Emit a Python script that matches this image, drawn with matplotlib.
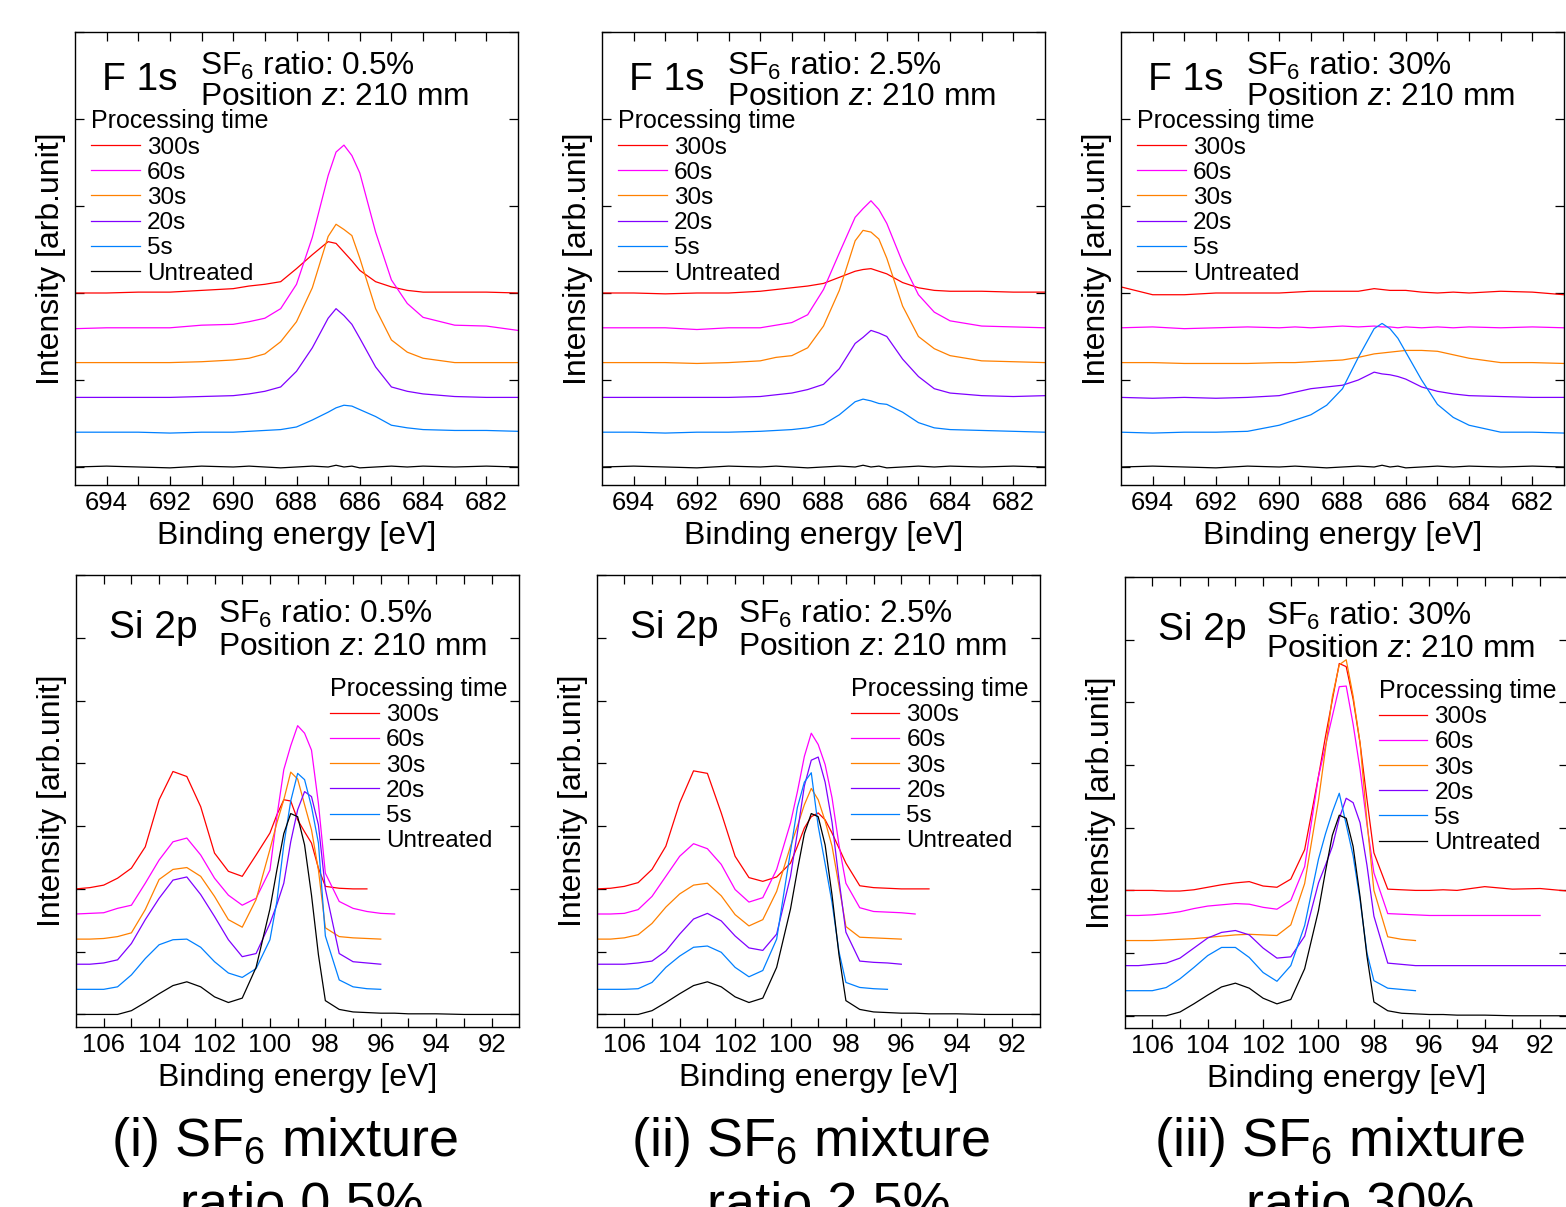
import numpy as np
import matplotlib
matplotlib.use("Agg")
import matplotlib.pyplot as plt

plt.rcParams['font.family'] = ['Liberation Sans', 'DejaVu Sans']
plt.rcParams['mathtext.fontset'] = 'custom'
plt.rcParams['mathtext.rm'] = 'Liberation Sans'
plt.rcParams['mathtext.it'] = 'Liberation Sans:italic'
plt.rcParams['mathtext.bf'] = 'Liberation Sans:bold'

nan = np.nan

times = ["300s", "60s", "30s", "20s", "5s", "Untreated"]
colors = ["#ff0000", "#ff00ff", "#ff8000", "#8000ff", "#0080ff", "#000000"]
offsets = [2.0, 1.6, 1.2, 0.8, 0.4, 0.0]
ratios = ["0.5%", "2.5%", "30%"]
roman = ["(i)", "(ii)", "(iii)"]

# ---- F 1s spectra (300s, 60s, 30s, 20s, 5s), untreated shared ----
f1s_energy = [695, 694, 693, 692, 691, 690, 689.5, 689, 688.5, 688, 687.5, 687,
              686.75, 686.5, 686.25, 686, 685.5, 685, 684.5, 684, 683, 682, 681]

f1s_untreated = [0.0, 0.01, 0.0, -0.01, 0.01, 0.0, 0.01, 0.0, -0.01, 0.0, 0.01, 0.0,
                 0.02, 0.0, 0.01, -0.01, 0.0, 0.01, 0.0, 0.01, 0.0, 0.01, 0.0]

f1s_ratio05 = [
    [0.0, 0.0, 0.01, 0.01, 0.03, 0.05, 0.08, 0.10, 0.13, 0.28, 0.44, 0.59,
     0.57, 0.47, 0.37, 0.26, 0.13, 0.07, 0.03, 0.01, 0.01, 0.01, 0.0],
    [-0.01, 0.0, 0.0, 0.0, 0.03, 0.04, 0.07, 0.11, 0.22, 0.50, 1.04, 1.75,
     2.02, 2.10, 1.98, 1.78, 1.10, 0.55, 0.28, 0.12, 0.03, 0.02, -0.03],
    [0.0, 0.0, 0.0, 0.0, 0.01, 0.03, 0.05, 0.10, 0.24, 0.47, 0.86, 1.45,
     1.59, 1.53, 1.46, 1.20, 0.62, 0.26, 0.12, 0.05, 0.0, 0.0, 0.0],
    [0.0, 0.0, 0.0, 0.0, 0.01, 0.02, 0.04, 0.07, 0.12, 0.30, 0.57, 0.91,
     1.02, 0.94, 0.84, 0.68, 0.35, 0.12, 0.07, 0.04, 0.01, 0.0, 0.0],
    [0.0, 0.0, 0.0, -0.01, 0.0, 0.0, 0.01, 0.02, 0.03, 0.06, 0.14, 0.23,
     0.28, 0.31, 0.30, 0.26, 0.18, 0.08, 0.05, 0.03, 0.02, 0.02, 0.01],
]

f1s_ratio25 = [
    [0.0, 0.0, -0.01, 0.0, 0.0, 0.02, 0.04, 0.06, 0.08, 0.11, 0.18, 0.25,
     0.27, 0.28, 0.25, 0.22, 0.12, 0.06, 0.03, 0.02, 0.02, 0.01, 0.01],
    [0.0, 0.0, 0.0, -0.02, 0.0, 0.0, 0.03, 0.06, 0.15, 0.44, 0.86, 1.27,
     1.37, 1.46, 1.36, 1.20, 0.75, 0.38, 0.18, 0.08, 0.02, 0.01, 0.0],
    [0.0, 0.0, 0.0, -0.01, 0.0, 0.02, 0.06, 0.08, 0.17, 0.42, 0.83, 1.40,
     1.52, 1.50, 1.42, 1.20, 0.65, 0.30, 0.16, 0.08, 0.02, 0.01, 0.0],
    [0.0, 0.0, 0.0, 0.0, 0.0, 0.01, 0.03, 0.05, 0.09, 0.15, 0.33, 0.62,
     0.69, 0.77, 0.74, 0.70, 0.44, 0.24, 0.10, 0.05, 0.02, 0.01, 0.02],
    [0.0, 0.0, -0.01, 0.0, 0.0, 0.01, 0.02, 0.03, 0.05, 0.09, 0.20, 0.35,
     0.38, 0.36, 0.33, 0.32, 0.23, 0.11, 0.05, 0.03, 0.02, 0.01, 0.0],
]

f1s_ratio30 = [
    [0.07, -0.02, -0.02, 0.0, 0.0, 0.0, 0.01, 0.02, 0.02, 0.02, 0.02, 0.05,
     0.04, 0.03, 0.03, 0.03, 0.01, 0.0, 0.01, 0.0, 0.02, 0.01, -0.02],
    [0.0, 0.01, -0.01, 0.0, 0.01, 0.0, 0.01, 0.0, 0.01, 0.02, 0.01, 0.02,
     0.01, 0.01, 0.0, 0.01, 0.0, 0.01, 0.0, 0.01, 0.0, 0.01, 0.0],
    [0.0, 0.0, -0.01, -0.01, -0.01, 0.0, 0.0, 0.01, 0.02, 0.03, 0.06, 0.10,
     0.11, 0.12, 0.13, 0.14, 0.14, 0.13, 0.09, 0.05, 0.0, 0.0, -0.01],
    [0.0, -0.01, 0.0, -0.01, 0.0, 0.02, 0.06, 0.10, 0.12, 0.14, 0.20, 0.29,
     0.27, 0.26, 0.24, 0.21, 0.12, 0.07, 0.04, 0.02, 0.01, 0.0, 0.0],
    [0.0, -0.01, 0.0, 0.0, 0.01, 0.08, 0.14, 0.20, 0.31, 0.50, 0.86, 1.19,
     1.25, 1.19, 1.08, 0.92, 0.60, 0.32, 0.17, 0.08, 0.0, 0.0, -0.01],
]

# ---- Si 2p spectra (300s, 60s, 30s, 20s, 5s), untreated shared ----
si_energy = [107, 106.5, 106, 105.5, 105, 104.5, 104, 103.5, 103, 102.5, 102,
             101.5, 101, 100.5, 100, 99.75, 99.5, 99.25, 99, 98.75, 98.5, 98.25,
             98, 97.5, 97, 96.5, 96, 95.5, 95, 94, 93, 92, 91]

si_untreated = [0.0, 0.0, 0.0, 0.0, 0.06, 0.19, 0.33, 0.46, 0.52, 0.44, 0.28,
                0.19, 0.26, 0.75, 1.68, 2.30, 2.88, 3.20, 3.15, 2.70, 1.90, 0.95,
                0.22, 0.08, 0.04, 0.03, 0.02, 0.02, 0.01, 0.01, 0.0, 0.0, 0.0]

si_ratio05 = [
    [0.0, 0.02, 0.06, 0.17, 0.33, 0.67, 1.42, 1.87, 1.79, 1.31, 0.57,
     0.28, 0.20, 0.54, 0.89, 1.18, 1.42, 1.40, 1.10, 0.91, 0.73, 0.33,
     0.04, 0.01, 0.0, 0.0, nan, nan, nan, nan, nan, nan, nan],
    [0.0, 0.01, 0.02, 0.09, 0.14, 0.49, 0.86, 1.15, 1.21, 0.94, 0.57,
     0.30, 0.14, 0.25, 0.70, 1.55, 2.30, 2.68, 3.00, 2.88, 2.61, 1.76,
     0.65, 0.20, 0.09, 0.04, 0.01, 0.0, nan, nan, nan, nan, nan],
    [0.0, 0.0, 0.01, 0.04, 0.10, 0.47, 0.95, 1.11, 1.14, 1.00, 0.68,
     0.31, 0.19, 0.63, 1.43, 1.85, 2.22, 2.66, 2.55, 2.14, 1.74, 1.10,
     0.18, 0.04, 0.02, 0.01, 0.0, nan, nan, nan, nan, nan, nan],
    [0.0, 0.0, 0.02, 0.07, 0.33, 0.71, 1.05, 1.34, 1.39, 1.11, 0.76,
     0.39, 0.12, 0.17, 0.65, 0.95, 1.29, 1.95, 2.46, 2.75, 2.67, 2.22,
     1.20, 0.17, 0.04, 0.02, 0.0, nan, nan, nan, nan, nan, nan],
    [0.0, 0.0, 0.0, 0.04, 0.23, 0.49, 0.71, 0.79, 0.80, 0.67, 0.44,
     0.26, 0.19, 0.33, 0.79, 1.40, 2.30, 3.00, 3.44, 3.34, 2.91, 2.33,
     0.85, 0.15, 0.04, 0.01, 0.0, nan, nan, nan, nan, nan, nan],
]

si_ratio25 = [
    [0.0, 0.01, 0.04, 0.10, 0.31, 0.68, 1.37, 1.88, 1.84, 1.21, 0.52,
     0.18, 0.12, 0.19, 0.41, 0.68, 0.97, 1.15, 1.21, 1.10, 0.89, 0.65,
     0.41, 0.05, 0.02, 0.01, 0.0, 0.0, 0.0, nan, nan, nan, nan],
    [0.0, 0.0, 0.01, 0.07, 0.28, 0.60, 0.92, 1.12, 1.04, 0.79, 0.39,
     0.19, 0.26, 0.71, 1.45, 1.95, 2.51, 2.88, 2.70, 2.38, 1.85, 1.10,
     0.49, 0.10, 0.04, 0.03, 0.02, 0.0, nan, nan, nan, nan, nan],
    [0.0, 0.0, 0.02, 0.07, 0.25, 0.51, 0.72, 0.86, 0.89, 0.69, 0.39,
     0.21, 0.31, 0.76, 1.48, 1.80, 2.14, 2.40, 2.22, 1.88, 1.48, 0.85,
     0.20, 0.03, 0.02, 0.01, 0.0, nan, nan, nan, nan, nan, nan],
    [0.0, 0.0, 0.0, 0.02, 0.05, 0.21, 0.48, 0.72, 0.81, 0.69, 0.45,
     0.26, 0.22, 0.48, 1.40, 2.10, 2.84, 3.25, 3.30, 2.90, 2.26, 1.35,
     0.51, 0.05, 0.03, 0.02, 0.0, nan, nan, nan, nan, nan, nan],
    [0.0, 0.0, 0.0, 0.01, 0.11, 0.35, 0.53, 0.67, 0.69, 0.59, 0.35,
     0.20, 0.30, 0.80, 2.20, 2.90, 3.30, 3.45, 2.60, 2.00, 1.38, 0.60,
     0.11, 0.03, 0.01, 0.0, nan, nan, nan, nan, nan, nan, nan],
]

si_ratio30 = [
    [0.0, 0.0, 0.0, -0.01, -0.01, 0.01, 0.05, 0.09, 0.12, 0.14, 0.07,
     0.05, 0.18, 0.65, 1.82, 2.45, 3.04, 3.62, 3.57, 3.05, 2.35, 1.45,
     0.60, 0.02, 0.01, 0.0, 0.0, 0.01, 0.0, 0.06, 0.02, 0.03, -0.01],
    [0.0, 0.0, 0.01, 0.03, 0.06, 0.11, 0.15, 0.17, 0.19, 0.18, 0.13,
     0.10, 0.24, 0.78, 2.22, 2.70, 3.18, 3.65, 3.66, 3.05, 2.33, 1.45,
     0.68, 0.03, 0.02, 0.01, 0.0, 0.0, 0.0, 0.0, 0.0, 0.0, nan],
    [0.0, 0.0, 0.0, 0.01, 0.02, 0.03, 0.05, 0.07, 0.09, 0.10, 0.09,
     0.08, 0.25, 0.91, 2.24, 3.05, 3.89, 4.40, 4.48, 3.90, 3.15, 1.90,
     0.80, 0.06, 0.02, 0.0, nan, nan, nan, nan, nan, nan, nan],
    [0.0, 0.0, 0.02, 0.04, 0.12, 0.28, 0.44, 0.53, 0.56, 0.49, 0.28,
     0.12, 0.14, 0.47, 1.32, 1.60, 1.90, 2.35, 2.67, 2.60, 2.28, 1.60,
     0.79, 0.04, 0.02, 0.0, 0.0, 0.0, 0.0, 0.0, 0.0, 0.0, 0.0],
    [0.0, 0.0, 0.0, 0.05, 0.19, 0.37, 0.56, 0.69, 0.69, 0.53, 0.29,
     0.15, 0.40, 1.04, 2.10, 2.50, 2.85, 3.15, 2.65, 2.15, 1.45, 0.60,
     0.16, 0.04, 0.02, 0.0, nan, nan, nan, nan, nan, nan, nan],
]

f1s_sets = [f1s_ratio05, f1s_ratio25, f1s_ratio30]
si_sets = [si_ratio05, si_ratio25, si_ratio30]

W, H = 1566, 1207
fig = plt.figure(figsize=(W / 100, H / 100), dpi=100)


def px_axes(x0, y0, x1, y1):
    return fig.add_axes([x0 / W, 1 - y1 / H, (x1 - x0) / W, (y1 - y0) / H])


def style_axes(ax, xlim, ylim, xticks, yticks):
    ax.set_xlim(*xlim)
    ax.set_ylim(*ylim)
    ax.set_xticks(xticks)
    ax.set_xticklabels([str(t) if t % 2 == 0 else "" for t in xticks])
    ax.set_yticks(yticks)
    ax.set_yticklabels([])
    ax.tick_params(direction="in", top=True, right=True, length=6.5,
                   width=0.9, labelsize=18.5, pad=4)
    for sp in ax.spines.values():
        sp.set_linewidth(1.0)
    ax.set_xlabel("Binding energy [eV]", fontsize=23, labelpad=4.5)
    ax.set_ylabel("Intensity [arb.unit]", fontsize=23, labelpad=2.5)


def draw_spectra(ax, energy, spectra, untreated):
    for vals, off, col, lab in zip(list(spectra) + [untreated], offsets, colors, times):
        ax.plot(energy, np.array(vals) + off, color=col, lw=0.9, label=lab)


def add_legend(ax, anchor):
    ax.legend(title="Processing time", loc="upper left", bbox_to_anchor=anchor,
              frameon=False, fontsize=17.5, title_fontsize=18,
              handlelength=2.0, handletextpad=0.3, labelspacing=0.13,
              borderpad=0, borderaxespad=0, alignment="left")


# top row: F 1s
f1s_boxes = [(75, 32, 518, 485), (602, 32, 1045, 485), (1121, 32, 1564, 485)]
for box, spectra, ratio in zip(f1s_boxes, f1s_sets, ratios):
    ax = px_axes(*box)
    draw_spectra(ax, f1s_energy, spectra, f1s_untreated)
    style_axes(ax, (695, 681), (-0.207, 5.0), list(range(682, 695)), range(0, 6))
    add_legend(ax, (0.036, 0.829))
    ax.text(0.060, 0.872, "F 1s", fontsize=28, transform=ax.transAxes)
    ax.text(0.282, 0.905, "SF$_6$ ratio: " + ratio, fontsize=22.8,
            transform=ax.transAxes)
    ax.text(0.282, 0.839, "Position $z$: 210 mm", fontsize=22.8,
            transform=ax.transAxes)

# bottom row: Si 2p
si_boxes = [(76, 575, 519.3, 1027), (596.6, 575, 1039.8, 1027),
            (1124.6, 577, 1567.8, 1028.3)]
for box, spectra, ratio in zip(si_boxes, si_sets, ratios):
    ax = px_axes(*box)
    draw_spectra(ax, si_energy, spectra, si_untreated)
    style_axes(ax, (107, 91), (-0.2, 7.0), list(range(92, 107)), range(0, 8))
    add_legend(ax, (0.573, 0.774))
    ax.text(0.075, 0.860, "Si 2p", fontsize=28, transform=ax.transAxes)
    ax.text(0.320, 0.893, "SF$_6$ ratio: " + ratio, fontsize=22.8,
            transform=ax.transAxes)
    ax.text(0.320, 0.823, "Position $z$: 210 mm", fontsize=22.8,
            transform=ax.transAxes)

# captions under each column
cap_x1 = [285, 811, 1340]
cap_x2 = [302, 829, 1360]
for r, ratio, x1, x2 in zip(roman, ratios, cap_x1, cap_x2):
    fig.text(x1 / W, 1 - 1156 / H, r + " SF$_6$ mixture", fontsize=39, ha="center")
    fig.text(x2 / W, 1 - 1219 / H, "ratio " + ratio, fontsize=39, ha="center")

fig.savefig("out.png", dpi=100)
